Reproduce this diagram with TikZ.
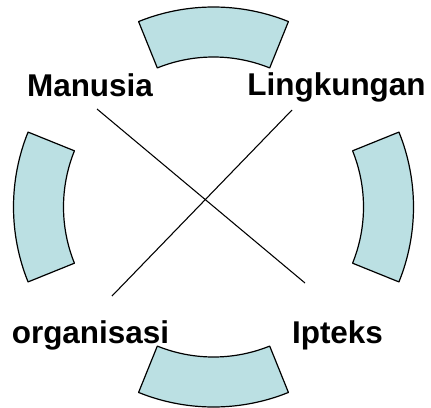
\documentclass[tikz,border=0pt]{standalone}
\usepackage{fontspec}
\setmainfont{Liberation Sans}
\usetikzlibrary{positioning,calc}
\definecolor{ringfill}{RGB}{187,224,227}
\tikzset{
  seg/.style  ={draw=black, fill=ringfill, line width=0.9pt, line join=round},
  lbl/.style  ={font=\fontsize{23.6}{28}\selectfont\bfseries, anchor=base, inner sep=0pt},
  link/.style ={draw=black, line width=0.8pt}
}
% one piece of the ring, centred on angle #1
\newcommand{\ringseg}[1]{%
  \draw[seg] ($(ctr)+(#1-22:150)$) arc[start angle=#1-22, end angle=#1+22, radius=150]
    -- ($(ctr)+(#1+22:200)$) arc[start angle=#1+22, end angle=#1-22, radius=200] -- cycle;}

\begin{document}
\begin{tikzpicture}[x=0.75pt, y=-0.75pt]
  \useasboundingbox (0,0) rectangle (431,407);
  \coordinate (ctr) at (213.5,207);

  % ring pieces
  \ringseg{90}
  \ringseg{270}
  \ringseg{0}
  \ringseg{180}

  % labels
  \node[lbl] (manusia)    at (90,96)    {Manusia};
  \node[lbl] (lingkungan) at (336.5,95) {Lingkungan};
  \node[lbl] (organisasi) at (90.5,343) {organisasi};
  \node[lbl] (ipteks)     at (337.5,343){Ipteks};

  % crossing lines
  \coordinate (m1) at (97,109);  \coordinate (m2) at (305,283);
  \coordinate (l1) at (292,110); \coordinate (l2) at (112,296);
  \draw[link] (m1) -- (m2);
  \draw[link] (l1) -- (l2);
\end{tikzpicture}
\end{document}
